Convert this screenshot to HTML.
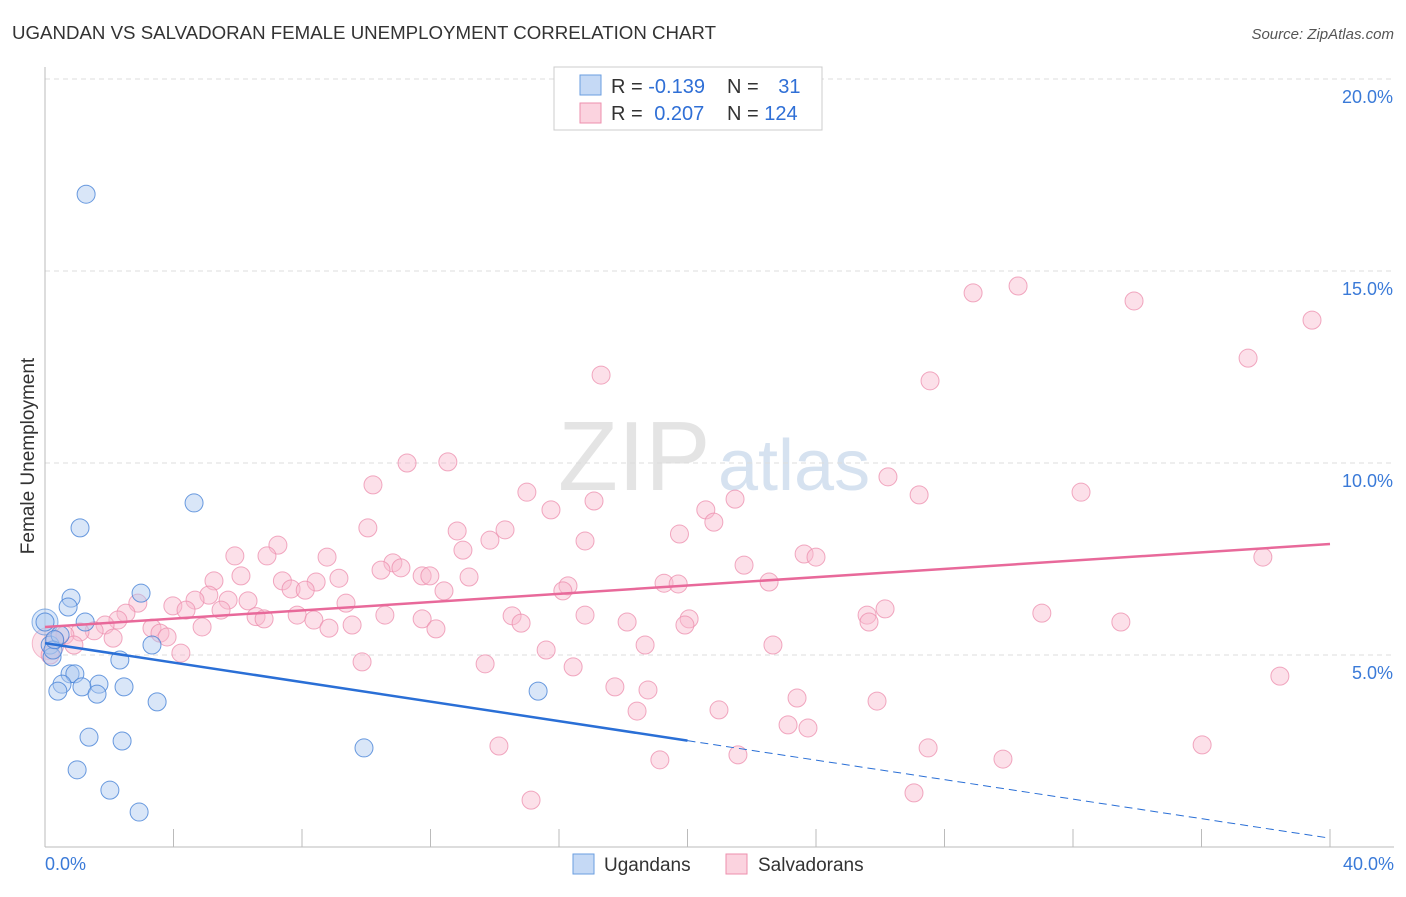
<!DOCTYPE html>
<html><head><meta charset="utf-8"><style>
body{margin:0;background:#fff;font-family:"Liberation Sans",sans-serif;}
svg text{font-family:"Liberation Sans",sans-serif;}
</style></head><body>
<svg id="chart" width="1406" height="892" xmlns="http://www.w3.org/2000/svg">
<text x="12" y="39" font-size="18" fill="#333" textLength="704" lengthAdjust="spacingAndGlyphs">UGANDAN VS SALVADORAN FEMALE UNEMPLOYMENT CORRELATION CHART</text>
<text x="1394" y="39" font-size="15" fill="#555" text-anchor="end" font-style="italic">Source: ZipAtlas.com</text>
<text x="558" y="490" font-size="98" fill="#e4e4e4" font-family="Liberation Serif">ZIP</text>
<text x="718" y="490" font-size="72" fill="#d6e2f0">atlas</text>
<g id="grid"></g><g id="axes"></g><g id="pts"></g><g id="lines"></g>
<text x="34" y="456" font-size="19" fill="#333" text-anchor="middle" transform="rotate(-90 34 456)">Female Unemployment</text>
<g>
<rect x="554" y="67" width="268" height="63" fill="#fff" stroke="#ccc"/>
<rect x="580" y="75" width="21" height="20" fill="#c5d9f5" stroke="#6a9ee0"/>
<rect x="580" y="103" width="21" height="20" fill="#fbd3df" stroke="#ee8fae"/>
<text x="611" y="93" font-size="20" fill="#333">R = <tspan fill="#2f6fd6">-0.139</tspan></text>
<text x="727" y="93" font-size="20" fill="#333">N = <tspan fill="#2f6fd6" dx="14">31</tspan></text>
<text x="611" y="120" font-size="20" fill="#333">R = <tspan fill="#2f6fd6" dx="6">0.207</tspan></text>
<text x="727" y="120" font-size="20" fill="#333">N = <tspan fill="#2f6fd6">124</tspan></text>
</g>
<g>
<rect x="573" y="854" width="21" height="20" fill="#c5d9f5" stroke="#6a9ee0"/>
<text x="604" y="871" font-size="19" fill="#333">Ugandans</text>
<rect x="726" y="854" width="21" height="20" fill="#fbd3df" stroke="#ee8fae"/>
<text x="758" y="871" font-size="19" fill="#333">Salvadorans</text>
</g>
</svg>
<script>
const yTicks=[5,10,15,20];
const yTickLabels=["5.0%","10.0%","15.0%","20.0%"];
const xTickLabels=["0.0%","40.0%"];
const blueX=[1.28,1.09,4.64,2.99,0.81,0.72,1.25,0,3.33,0.16,0.47,0.22,2.33,0.78,0.93,0.53,1.68,1.15,2.46,1.62,0.40,3.49,15.35,1.37,2.40,9.93,1.00,2.02,2.93,0.25,0.3];
const blueY=[17.0,8.31,8.96,6.61,6.48,6.25,5.86,5.86,5.26,5.26,5.52,4.95,4.87,4.51,4.51,4.24,4.24,4.17,4.17,3.98,4.06,3.78,4.06,2.86,2.76,2.58,2.01,1.48,0.91,5.13,5.4];
const pinkX=[30.29,28.89,33.9,39.44,37.45,17.31,27.55,11.27,12.54,26.24,10.21,15.0,32.25,27.21,17.09,21.48,20.57,15.75,20.82,10.05,12.83,14.32,19.75,13.85,16.81,7.25,13.01,5.91,6.91,8.78,23.63,24.0,37.91,10.83,10.46,11.08,21.76,6.1,11.74,11.98,13.2,9.15,5.26,7.39,8.44,22.54,19.27,19.71,7.66,8.1,16.28,16.12,12.42,5.1,4.67,5.7,6.32,2.89,9.37,3.98,4.39,5.48,2.52,26.15,31.03,6.57,7.85,10.58,14.54,16.81,25.59,6.82,11.74,2.27,8.37,20.05,25.65,33.49,14.82,18.12,19.92,1.87,3.33,4.89,9.56,8.84,12.17,3.58,3.8,1.53,1.09,2.12,0.62,0.31,0.9,18.68,22.66,15.6,4.23,0.16,9.87,13.7,16.44,38.44,17.74,18.77,23.41,25.9,18.43,20.98,23.13,23.75,14.13,27.49,36.02,21.57,19.14,29.82,15.13,27.05];
const pinkY=[14.61,14.43,14.22,13.72,12.73,12.29,12.14,10.0,10.03,9.64,9.43,9.24,9.24,9.17,9.01,9.06,8.78,8.78,8.46,8.31,8.23,8.26,8.15,7.99,7.97,7.86,7.73,7.58,7.58,7.55,7.63,7.55,7.55,7.40,7.21,7.27,7.34,7.06,7.06,7.06,7.03,7.0,6.93,6.93,6.9,6.9,6.87,6.85,6.72,6.69,6.80,6.67,6.67,6.56,6.43,6.43,6.41,6.35,6.35,6.28,6.17,6.17,6.09,6.2,6.09,6.0,6.04,6.04,6.02,6.04,6.04,5.94,5.94,5.91,5.91,5.94,5.86,5.86,5.83,5.86,5.78,5.78,5.70,5.73,5.78,5.70,5.68,5.57,5.47,5.63,5.60,5.44,5.52,5.39,5.26,5.26,5.26,5.13,5.05,5.0,4.82,4.77,4.69,4.45,4.17,4.09,3.88,3.80,3.54,3.57,3.18,3.10,2.63,2.58,2.66,2.40,2.27,2.29,1.22,1.41];
const pinkTrend=[5.73,7.89];
const blueTrend=[5.31,0.23];
const NS="http://www.w3.org/2000/svg";
const X=v=>45+v*32.125, Y=v=>847-v*38.4;
function mk(t,a,p){const e=document.createElementNS(NS,t);for(const k in a)e.setAttribute(k,a[k]);document.getElementById(p).appendChild(e);return e;}
yTicks.forEach((t,i)=>{
 const g=mk('line',{x1:45,x2:1394,y1:Y(t),y2:Y(t),stroke:'#ddd','stroke-dasharray':'5,4'},'grid');
 
 
 const l=mk('text',{x:1393,y:Y(t)+24,'font-size':18,fill:'#3a7ad8','text-anchor':'end'},'axes');l.textContent=yTickLabels[i];
 
 
});
mk('line',{x1:45,x2:45,y1:67,y2:847,stroke:'#bbb'},'axes');
mk('line',{x1:45,x2:1394,y1:847,y2:847,stroke:'#bbb'},'axes');
for(let i=0;i<=40;i+=4){const t=mk('line',{x1:X(i),x2:X(i),y1:829,y2:847,stroke:'#bbb'},'axes');
 
 }
const xl0=mk('text',{x:45,y:870,'font-size':18,fill:'#3a7ad8'},'axes');xl0.textContent=xTickLabels[0];


const xl1=mk('text',{x:1394,y:870,'font-size':18,fill:'#3a7ad8','text-anchor':'end'},'axes');xl1.textContent=xTickLabels[1];


mk('circle',{cx:X(0.1),cy:Y(5.3),r:16,fill:'rgba(240,140,170,0.25)',stroke:'rgba(238,143,174,0.6)'},'pts');
pinkX.forEach((x,i)=>{const c=mk('circle',{cx:X(x),cy:Y(pinkY[i]),r:9,fill:'rgba(248,187,206,0.45)',stroke:'rgba(236,140,172,0.75)','stroke-width':1},'pts');
 
 });
mk('circle',{cx:X(0),cy:Y(5.86),r:13,fill:'rgba(160,195,240,0.4)',stroke:'rgba(90,145,220,0.7)'},'pts');
blueX.forEach((x,i)=>{const c=mk('circle',{cx:X(x),cy:Y(blueY[i]),r:9,fill:'rgba(170,200,240,0.45)',stroke:'rgba(70,130,215,0.8)','stroke-width':1},'pts');
 
 });
const pl=mk('line',{x1:X(0),y1:Y(pinkTrend[0]),x2:X(40),y2:Y(pinkTrend[1]),stroke:'#e8699a','stroke-width':2.5},'lines');


const bx=20, by=blueTrend[0]+(blueTrend[1]-blueTrend[0])*bx/40;
const bl=mk('line',{x1:X(0),y1:Y(blueTrend[0]),x2:X(bx),y2:Y(by),stroke:'#2a6fd6','stroke-width':2.5},'lines');


const bd=mk('line',{x1:X(bx),y1:Y(by),x2:X(40),y2:Y(blueTrend[1]),stroke:'#2a6fd6','stroke-width':1,'stroke-dasharray':'8,5'},'lines');


</script>
</body></html>
